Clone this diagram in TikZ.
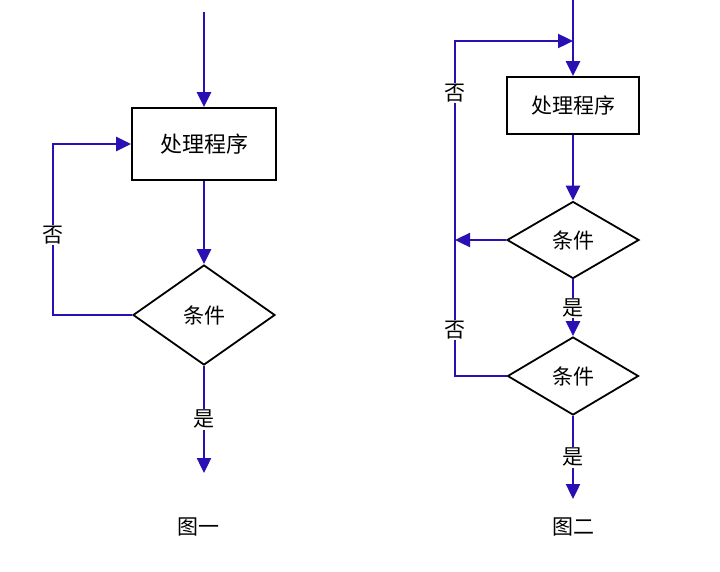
\documentclass[tikz,border=0pt]{standalone}
\usepackage{fontspec}
\setmainfont{Noto Sans CJK SC}
\usetikzlibrary{shapes.geometric,arrows.meta}
\definecolor{lineblue}{RGB}{40,16,180}

\begin{document}
\begin{tikzpicture}[x=1pt,y=-1pt,font=\fontsize{21}{25}\selectfont,
  flow/.style={draw=lineblue,line width=2.4pt},
  arr/.style={flow,-{Triangle[length=15pt,width=14pt]}},
  box/.style={rectangle,draw,line width=1.8pt,inner sep=0pt},
  cond/.style={diamond,draw,line width=1.8pt,inner sep=0pt},
  lbl/.style={fill=white,inner sep=1pt}]
\useasboundingbox (0,0) rectangle (720,571);

% figure one
\coordinate (s1) at (204,12);
\node[box,minimum width=144,minimum height=72,font=\fontsize{22}{26}\selectfont] (b1) at (204,144) {处理程序};
\node[cond,minimum width=142,minimum height=100] (d1) at (204,315) {条件};
\coordinate (e1) at (204,473);
\coordinate (k1) at (53,315);
\draw[arr] (s1) -- (b1);
\draw[arr] (b1) -- (d1);
\draw[arr] (d1.west) -- (k1) |- (b1.west);
\draw[arr] (d1) -- node[lbl] {是} (e1);
\node[lbl] (n1) at (53,235) {否};
\node (f1) at (198,527) {图一};

% figure two
\coordinate (s2) at (573,0);
\node[box,minimum width=132,minimum height=57] (b2) at (573,105.5) {处理程序};
\node[cond,minimum width=132,minimum height=77] (d2) at (573,240) {条件};
\node[cond,minimum width=131,minimum height=78] (d3) at (573,376) {条件};
\coordinate (e2) at (573,499);
\coordinate (k2) at (455,41);
\draw[arr] (s2) -- (b2);
\draw[arr] (b2) -- (d2);
\draw[arr] (d2.west) -- (d2.west -| k2);
\draw[arr] (d3.west) -| (k2) -- (k2 -| b2);
\draw[arr] (d2) -- node[lbl] {是} (d3);
\draw[arr] (d3) -- node[lbl] {是} (e2);
\node[lbl] (n2) at (455,93) {否};
\node[lbl] (n3) at (455,330) {否};
\node (f2) at (573,527) {图二};
\end{tikzpicture}
\end{document}
